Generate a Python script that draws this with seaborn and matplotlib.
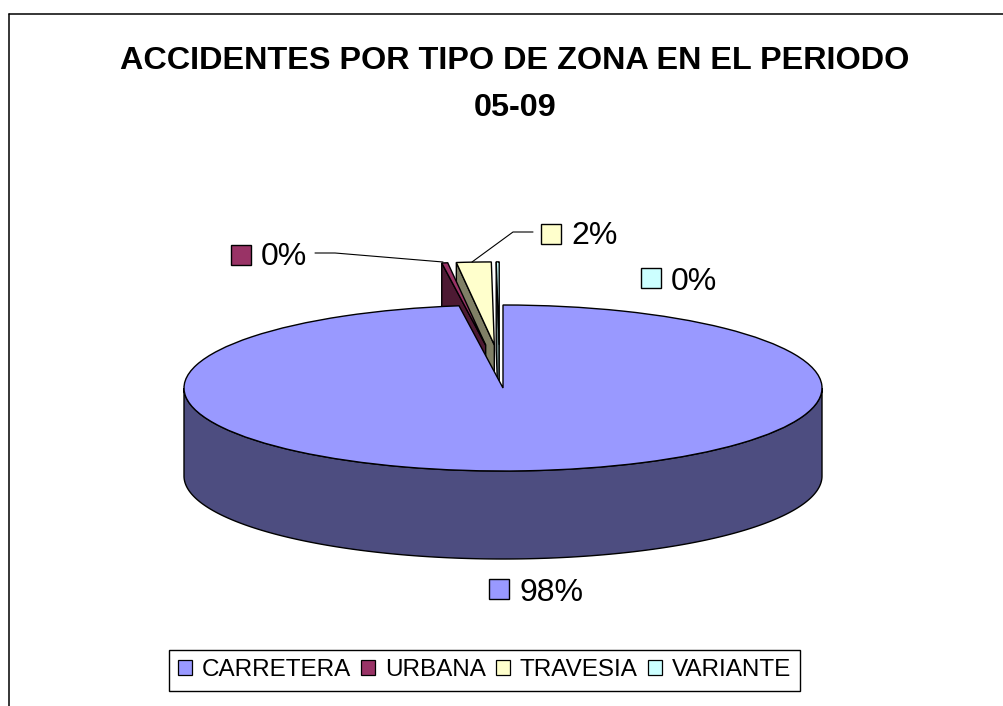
import numpy as np
import matplotlib
matplotlib.use("Agg")
import matplotlib.pyplot as plt
from matplotlib.lines import Line2D
from matplotlib.patches import Patch, Polygon, Rectangle
import seaborn as sns

categories = ["CARRETERA", "URBANA", "TRAVESIA", "VARIANTE"]
values = [97.80, 0.30, 1.75, 0.15]
top_colors = ["#9999FF", "#993366", "#FFFFCC", "#CCFFFF"]
side_colors = ["#4D4D80", "#4D1A33", "#808066", "#668080"]
title_text = "ACCIDENTES POR TIPO DE ZONA EN EL PERIODO\n05-09"

W, H = 1004, 706
sns.set_theme(style="white")
plt.rcParams["font.family"] = ["Liberation Sans", "DejaVu Sans"]

fig = plt.figure(figsize=(W / 100, H / 100), dpi=100, facecolor="white")
ax = fig.add_axes([0, 0, 1, 1])

CX, CY, RX, RY = 503.0, 388.0, 319.0, 83.0
DEPTH = 88.0 / RY


def fx(px):
    return px / W


def fy(py):
    return 1 - py / H


palette = sns.color_palette(top_colors)
wedges, _ = ax.pie(
    values,
    explode=[0, 0.52, 0.52, 0.52],
    startangle=90,
    counterclock=False,
    colors=palette,
    radius=1,
    wedgeprops=dict(edgecolor="black", linewidth=1.0),
)
ax.set_aspect("auto")
ax.set_xlim((0 - CX) / RX, (W - CX) / RX)
ax.set_ylim((CY - H) / RY, CY / RY)
ax.axis("off")

# small horizontal nudges of exploded slices, in pixels
nudges = [0, 4, 2, -3]
for w, n in zip(wedges, nudges):
    c = w.center
    w.set_center((c[0] + n / RX, c[1]))

# front wall of the large slice
t = np.radians(np.linspace(-180, 0, 240))
x = np.cos(t)
y = np.sin(t)
ax.add_patch(Polygon(
    np.column_stack([np.r_[x, x[::-1]], np.r_[y, y[::-1] - DEPTH]]),
    closed=True, facecolor=side_colors[0], edgecolor="black", linewidth=1.0, zorder=3))
wedges[0].set_zorder(4)

# walls of the exploded slices (left radial edge extruded downwards)
order = {2: 1.0, 3: 1.2, 1: 1.4}
for i, z in order.items():
    w = wedges[i]
    cx, cy = w.center
    a = np.radians(max(w.theta1 % 360, w.theta2 % 360))
    rim = (cx + np.cos(a), cy + np.sin(a))
    pts = [rim, (cx, cy), (cx, cy - DEPTH), (rim[0], rim[1] - DEPTH)]
    ax.add_patch(Polygon(pts, closed=True, facecolor=side_colors[i],
                         edgecolor="black", linewidth=1.0, zorder=z))
    w.set_zorder(z + 0.1)

# chart frame (open on right and bottom, as cropped)
fig.add_artist(Line2D([fx(9), fx(W)], [fy(13.5), fy(13.5)], color="black", lw=1.1))
fig.add_artist(Line2D([fx(9), fx(9)], [fy(13.5), 0], color="black", lw=1.1))

fig.text(fx(515), fy(84.5), title_text, ha="center", va="center",
         fontsize=23.3, fontweight="bold", color="black", linespacing=1.7)

# percentage labels with keys
total = sum(values)
label_pos = [(489, 579, 520, 593), (231, 245, 261, 257), (541, 224, 571, 236), (641, 268, 671, 282)]
for v, col, (kx, ky, tx, ty) in zip(values, palette, label_pos):
    fig.add_artist(Rectangle((fx(kx), fy(ky + 20)), 20 / W, 20 / H, transform=fig.transFigure,
                             facecolor=col, edgecolor="black", linewidth=1.0))
    fig.text(fx(tx), fy(ty), f"{round(v / total * 100)}%", ha="left", va="center",
             fontsize=23, color="black")

# leader lines
for xs, ys in [([315, 335, 443], [253, 253, 262]), ([533, 513, 472], [232, 232, 262])]:
    fig.add_artist(Line2D([fx(p) for p in xs], [fy(p) for p in ys], color="black", lw=0.8))

handles = [Patch(facecolor=c, edgecolor="black", linewidth=0.9) for c in palette]
leg = fig.legend(
    handles, categories, loc="center", bbox_to_anchor=(fx(484.5), fy(670.5)),
    ncol=4, frameon=True, fancybox=False, edgecolor="black", framealpha=1,
    fontsize=17.5, labelcolor="black", handlelength=0.58, handleheight=0.58,
    handletextpad=0.4, columnspacing=0.42, borderpad=0.38, borderaxespad=0,
)
leg.get_frame().set_linewidth(1.0)

fig.savefig("out.png", dpi=100, facecolor="white")
